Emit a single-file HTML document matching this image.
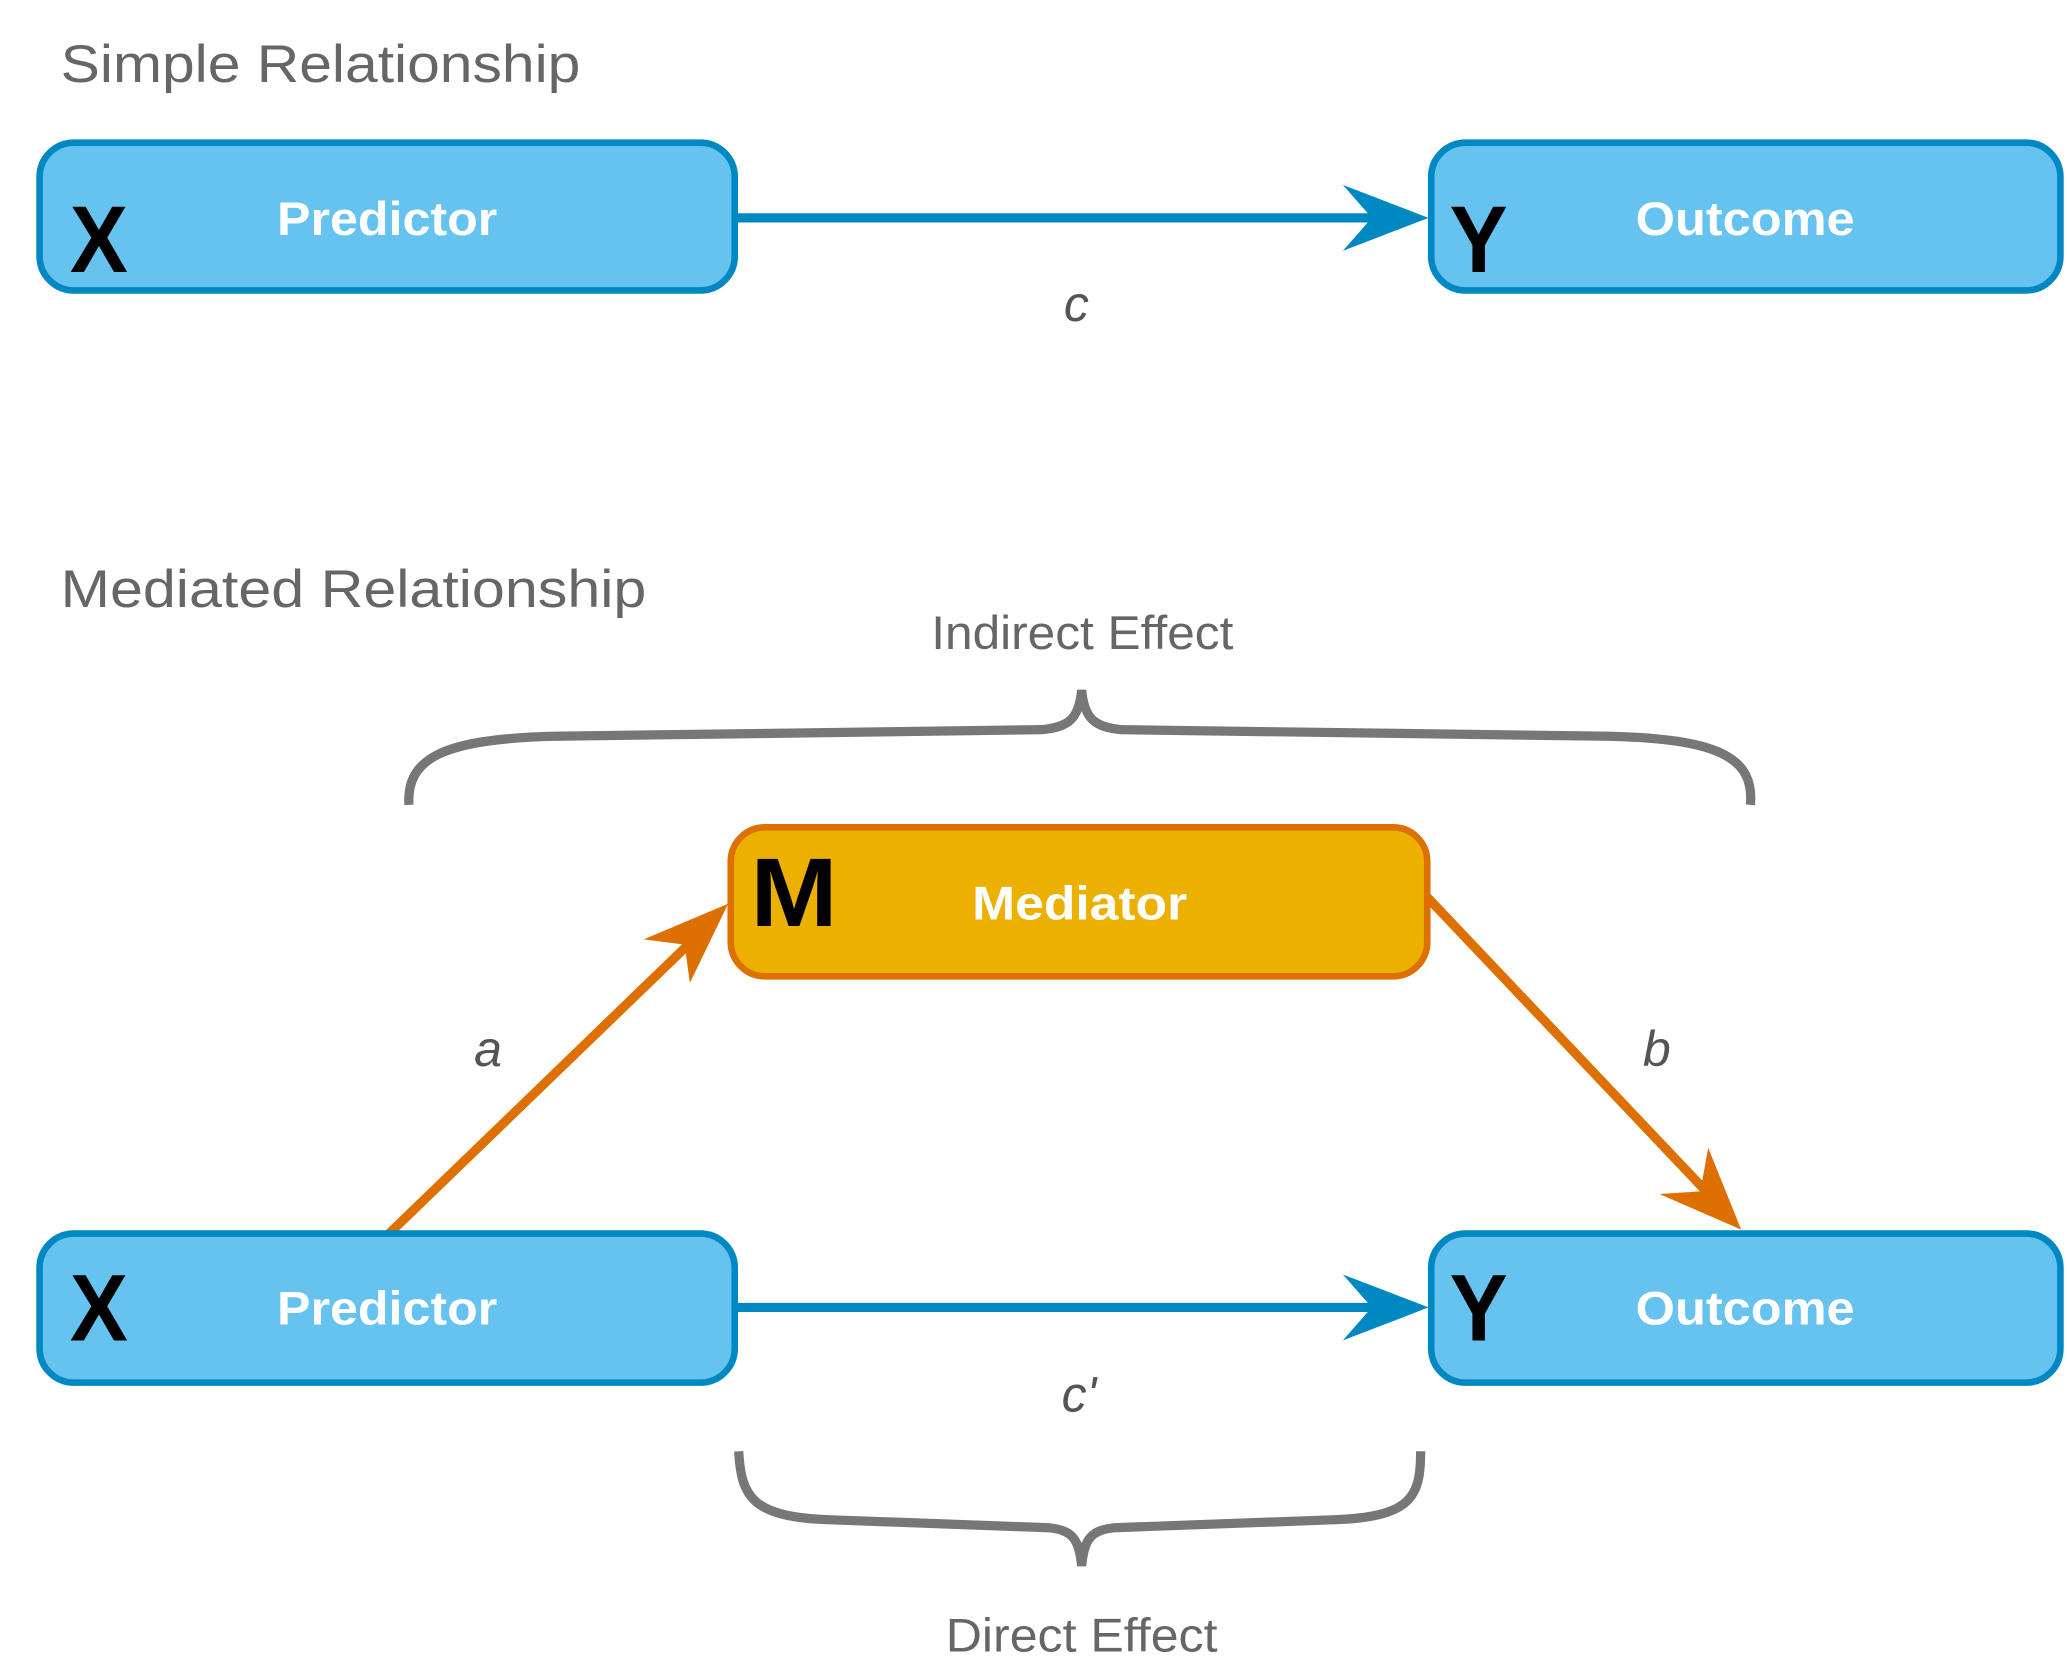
<!DOCTYPE html>
<html><head><meta charset="utf-8"><style>
html,body{margin:0;padding:0;background:#fff;}
svg{display:block;}
text{font-family:"Liberation Sans",Arial,sans-serif;}
</style></head><body>
<svg width="2067" height="1677" viewBox="0 0 1567 1271" xmlns="http://www.w3.org/2000/svg">
<rect width="1567" height="1271" fill="#fff"/>
<text x="46" y="62" font-size="40" fill="#666" textLength="394" lengthAdjust="spacingAndGlyphs">Simple Relationship</text>
<text x="46" y="460" font-size="40" fill="#666" textLength="444" lengthAdjust="spacingAndGlyphs">Mediated Relationship</text>

<!-- simple -->
<line x1="557" y1="165" x2="1045" y2="165" stroke="#0088c2" stroke-width="7"/>
<polygon points="1018,140 1083,165 1018,190 1040,165" fill="#0088c2"/>
<rect x="30" y="108" width="527" height="112" rx="26" fill="#66c2ee" stroke="#0088c2" stroke-width="5"/>
<rect x="1085" y="108" width="477" height="112" rx="26" fill="#66c2ee" stroke="#0088c2" stroke-width="5"/>
<text x="53" y="206" font-size="72" font-weight="bold" fill="#000" textLength="44" lengthAdjust="spacingAndGlyphs">X</text>
<text x="210" y="178" font-size="36" font-weight="bold" fill="#fff" textLength="167" lengthAdjust="spacingAndGlyphs">Predictor</text>
<text x="1099" y="206" font-size="72" font-weight="bold" fill="#000" textLength="44" lengthAdjust="spacingAndGlyphs">Y</text>
<text x="1240" y="178" font-size="36" font-weight="bold" fill="#fff" textLength="166" lengthAdjust="spacingAndGlyphs">Outcome</text>
<text x="816" y="243" font-size="38" font-style="italic" fill="#555" text-anchor="middle">c</text>

<!-- braces -->
<text x="706" y="492" font-size="36" fill="#666" textLength="229" lengthAdjust="spacingAndGlyphs">Indirect Effect</text>
<path d="M310,610 C308,575 335,560 420,558 L790,553 C810,551 818,545 820,523 C822,545 830,551 850,553 L1220,558 C1305,560 1330,575 1327,610" fill="none" stroke="#777" stroke-width="7"/>
<path d="M560,1100 C562,1135 570,1150 630,1152 L795,1158 C812,1160 818,1165 820,1187 C822,1165 828,1160 845,1158 L1010,1152 C1070,1150 1077,1135 1077,1100" fill="none" stroke="#777" stroke-width="7"/>
<text x="717" y="1252" font-size="36" fill="#666" textLength="206" lengthAdjust="spacingAndGlyphs">Direct Effect</text>

<!-- mediated arrows -->
<line x1="295" y1="935" x2="530" y2="708" stroke="#dd7000" stroke-width="7"/>
<polygon points="552,685 523,745 519,716 488,712" fill="#dd7000"/>
<line x1="1082" y1="680" x2="1302" y2="912" stroke="#dd7000" stroke-width="7"/>
<polygon points="1320,932 1258,905 1289,903 1295,870" fill="#dd7000"/>
<line x1="557" y1="991" x2="1045" y2="991" stroke="#0088c2" stroke-width="7"/>
<polygon points="1018,966 1083,991 1018,1016 1040,991" fill="#0088c2"/>

<rect x="554" y="627" width="528" height="113" rx="26" fill="#ebb000" stroke="#dd7000" stroke-width="5"/>
<text x="569" y="702" font-size="74" font-weight="bold" fill="#000" textLength="66" lengthAdjust="spacingAndGlyphs">M</text>
<text x="737" y="697" font-size="36" font-weight="bold" fill="#fff" textLength="163" lengthAdjust="spacingAndGlyphs">Mediator</text>

<rect x="30" y="935" width="527" height="113" rx="26" fill="#66c2ee" stroke="#0088c2" stroke-width="5"/>
<rect x="1085" y="935" width="477" height="113" rx="26" fill="#66c2ee" stroke="#0088c2" stroke-width="5"/>
<text x="53" y="1016" font-size="72" font-weight="bold" fill="#000" textLength="44" lengthAdjust="spacingAndGlyphs">X</text>
<text x="210" y="1004" font-size="36" font-weight="bold" fill="#fff" textLength="167" lengthAdjust="spacingAndGlyphs">Predictor</text>
<text x="1099" y="1016" font-size="72" font-weight="bold" fill="#000" textLength="44" lengthAdjust="spacingAndGlyphs">Y</text>
<text x="1240" y="1004" font-size="36" font-weight="bold" fill="#fff" textLength="166" lengthAdjust="spacingAndGlyphs">Outcome</text>

<text x="370" y="808" font-size="38" font-style="italic" fill="#555" text-anchor="middle">a</text>
<text x="1256" y="808" font-size="38" font-style="italic" fill="#555" text-anchor="middle">b</text>
<text x="818" y="1070" font-size="38" font-style="italic" fill="#555" text-anchor="middle">c'</text>
</svg>
</body></html>
